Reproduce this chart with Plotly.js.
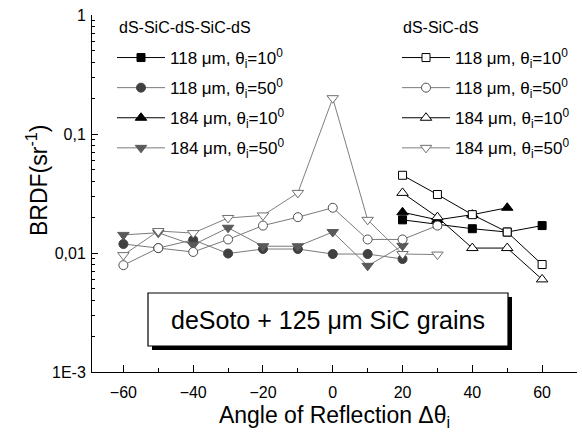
<!DOCTYPE html>
<html><head><meta charset="utf-8">
<script src="https://cdn.plot.ly/plotly-3.0.1.min.js"></script>
<style>body{margin:0;background:#fff}#c{width:582px;height:432px}</style>
</head><body><div id="c"></div>
<script>
// angles of reflection
const angLeft = [-60,-50,-40,-30,-20,-10,0,10,20];
const angLeft30 = [-60,-50,-40,-30,-20,-10,0,10,20,30];
const angRight = [20,30,40,50,60];
const angRight50 = [20,30,40,50];

// dS-SiC-dS-SiC-dS (filled)
const ml118_10 = [0.019,0.0175,0.016,0.015,0.017];
const ml118_50 = [0.0119,0.011,0.0129,0.0099,0.0108,0.0108,0.0098,0.0098,0.0089];
const ml184_10 = [0.022,0.019,0.021,0.024];
const ml184_50 = [0.0142,0.0148,0.0117,0.0163,0.0114,0.0114,0.015,0.0078,0.0115];

// dS-SiC-dS (open)
const sl118_10 = [0.045,0.031,0.021,0.015,0.008];
const sl118_50 = [0.0079,0.011,0.0102,0.013,0.017,0.020,0.024,0.013,0.013,0.017];
const sl184_10 = [0.032,0.020,0.011,0.011,0.006];
const sl184_50 = [0.0096,0.0153,0.0147,0.0197,0.0207,0.032,0.2,0.019,0.0098,0.0097];

const labels = {
  a:'118 \u03bcm, \u03b8<sub>i</sub>=10<sup>0</sup>',
  b:'118 \u03bcm, \u03b8<sub>i</sub>=50<sup>0</sup>',
  c:'184 \u03bcm, \u03b8<sub>i</sub>=10<sup>0</sup>',
  d:'184 \u03bcm, \u03b8<sub>i</sub>=50<sup>0</sup>'
};
const groupTitles = ['dS-SiC-dS-SiC-dS','dS-SiC-dS'];
const boxText = 'deSoto + 125 \u03bcm SiC grains';
const yTitle = 'BRDF(sr<sup>-1</sup>)';
const xTitle = 'Angle of Reflection \u0394\u03b8<sub>i</sub>';
const yTickVals = [0.001,0.01,0.1,1];
const yTickText = ['1E-3','0,01','0,1','1'];
const yMinorVals = [0.002,0.003,0.004,0.005,0.006,0.007,0.008,0.009,0.02,0.03,0.04,0.05,0.06,0.07,0.08,0.09,0.2,0.3,0.4,0.5,0.6,0.7,0.8,0.9];
const xTickVals = [-60,-40,-20,0,20,40,60];

function tr(x,y,name,sym,mcol,lcol,fill,size,legend,rank){
  return {x:x,y:y,name:name,type:'scatter',mode:'lines+markers',
    legend:legend,legendrank:rank,legendgroup:legend+rank,
    line:{color:lcol,width:1},
    marker:{symbol:sym,size:size,color:fill,line:{color:mcol,width:1}}};
}
const traces = [
  tr(angLeft,ml118_50,labels.b,'circle','#404040','#7a7a7a','#404040',9,'legend',2),
  tr(angLeft,ml184_50,labels.d,'triangle-down','#5a5a5a','#7a7a7a','#5a5a5a',10,'legend',4),
  tr(angRight,ml118_10,labels.a,'square','#000','#000','#000',8,'legend',1),
  tr(angRight50,ml184_10,labels.c,'triangle-up','#000','#000','#000',10,'legend',3),
  tr(angLeft30,sl118_50,labels.b,'circle','#505050','#7a7a7a','#fff',9,'legend2',2),
  tr(angLeft30,sl184_50,labels.d,'triangle-down','#707070','#808080','#fff',10,'legend2',4),
  tr(angRight,sl118_10,labels.a,'square','#000','#000','#fff',8,'legend2',1),
  tr(angRight,sl184_10,labels.c,'triangle-up','#000','#000','#fff',10,'legend2',3)
];

const F = 'Liberation Sans, Arial, sans-serif';
const X0=92, X1=577, Y0=15, Y1=372;
const px=v=>(v-X0)/(X1-X0), py=v=>(Y1-v)/(Y1-Y0);

const legBase = {yanchor:'top',xanchor:'left',bgcolor:'rgba(0,0,0,0)',traceorder:'grouped',
  tracegroupgap:5,itemwidth:48,font:{size:17,family:F}};

const layout = {
  width:582,height:432,
  margin:{l:92,r:5,t:15,b:60},
  paper_bgcolor:'#fff',plot_bgcolor:'#fff',
  font:{family:F,size:16,color:'#000'},
  showlegend:true,
  xaxis:{range:[-69,70],showgrid:false,zeroline:false,showline:true,linecolor:'#000',linewidth:1,
    tickmode:'array',tickvals:xTickVals,ticks:'inside',ticklen:7,tickwidth:1,tickcolor:'#000',
    minor:{dtick:10,tick0:0,ticks:'inside',ticklen:4,tickcolor:'#000',showgrid:false},
    tickfont:{size:16,family:F},ticklabelstandoff:6,
    title:{text:xTitle,font:{size:23,family:F},standoff:6},automargin:false},
  yaxis:{type:'log',range:[-3,0],showgrid:false,zeroline:false,showline:true,linecolor:'#000',linewidth:1,
    tickmode:'array',tickvals:yTickVals,ticktext:yTickText,ticks:'inside',ticklen:6,tickwidth:1,tickcolor:'#000',
    minor:{tickmode:'array',tickvals:yMinorVals,ticks:'inside',ticklen:3,tickcolor:'#000',showgrid:false},
    tickfont:{size:16,family:F},ticklabelstandoff:2,automargin:false},
  legend:Object.assign({x:px(112),y:py(40)},legBase),
  legend2:Object.assign({x:px(397),y:py(40)},legBase),
  shapes:[
    {type:'rect',xref:'paper',yref:'paper',x0:px(152),x1:px(512),y0:py(350),y1:py(297),fillcolor:'#000',line:{width:0},layer:'above'},
    {type:'rect',xref:'paper',yref:'paper',x0:px(148),x1:px(508),y0:py(346),y1:py(293),fillcolor:'#fff',line:{color:'#000',width:1.2},layer:'above'}
  ],
  annotations:[
    {xref:'paper',yref:'paper',x:px(37),y:py(181),text:yTitle,textangle:-90,showarrow:false,xanchor:'center',yanchor:'middle',font:{size:23,family:F}},
    {xref:'paper',yref:'paper',x:px(117),y:py(28),text:groupTitles[0],showarrow:false,xanchor:'left',yanchor:'middle',font:{size:16,family:F}},
    {xref:'paper',yref:'paper',x:px(401),y:py(28),text:groupTitles[1],showarrow:false,xanchor:'left',yanchor:'middle',font:{size:16,family:F}},
    {xref:'paper',yref:'paper',x:px(328),y:py(320),text:boxText,showarrow:false,
     xanchor:'center',yanchor:'middle',font:{size:25,family:F,color:'#000'}}
  ]
};
Plotly.newPlot('c',traces,layout,{displayModeBar:false,staticPlot:true});
</script></body></html>
